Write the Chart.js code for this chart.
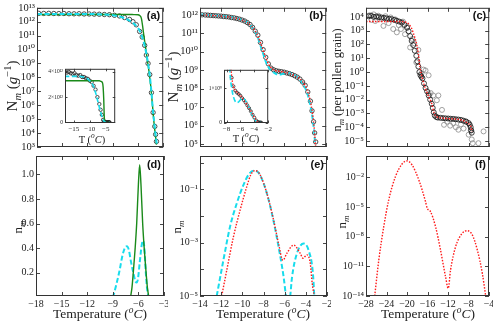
<!DOCTYPE html>
<html>
<head>
<meta charset="utf-8">
<script src="https://cdn.jsdelivr.net/npm/chart.js@4/dist/chart.umd.min.js"></script>
<style>
  body { margin: 0; width: 500px; height: 326px; position: relative; overflow: hidden; background: #fff;
         font-family: "Liberation Serif", "DejaVu Serif", serif; color: #222; }
  canvas { position: absolute; }
  .lbl { position: absolute; white-space: nowrap; transform: translate(-50%, -50%); line-height: 1; }
  .rot { transform: translate(-50%, -50%) rotate(-90deg); }
  sub, sup { font-size: 70%; line-height: 0; }
</style>
</head>
<body>
<script>
// ---- (a) N_m per gram, circles + two fits ----
const tempA = [-17.8, -17.2, -16.6, -16.0, -15.4, -14.8, -14.2, -13.6, -13.0, -12.4, -11.8, -11.2, -10.6, -10.0, -9.4, -8.8, -8.2, -7.6, -7.0, -6.6, -6.2, -5.8, -5.5, -5.2, -5.0, -4.8, -4.6, -4.4, -4.2, -4.0, -3.9, -3.8];
const nmA = [4.0e12, 3.95e12, 4.0e12, 3.9e12, 3.85e12, 3.9e12, 3.75e12, 3.7e12, 3.75e12, 3.6e12, 3.6e12, 3.5e12, 3.45e12, 3.3e12, 3.2e12, 2.9e12, 2.6e12, 2.0e12, 1.45e12, 1.0e12, 6.0e11, 2.0e11, 8.0e10, 2.0e10, 4.0e9, 1.0e9, 1.6e8, 8.0e6, 3.0e5, 3.0e4, 8.0e3, 2.5e3];
const tempAcyan = [-18, -14, -12, -11, -10, -9, -8.5, -8, -7.5, -7, -6.5, -6, -5.75, -5.5, -5.25, -5, -4.8, -4.6, -4.4, -4.2, -4.0, -3.85, -3.75];
const nmAcyan = [3.65e12, 3.65e12, 3.6e12, 3.5e12, 3.3e12, 2.95e12, 2.6e12, 2.2e12, 1.7e12, 1.2e12, 7.5e11, 3.5e11, 2.0e11, 8.0e10, 2.5e10, 5.0e9, 1.0e9, 1.5e8, 9.0e6, 3.0e5, 2.5e4, 4.0e3, 1.5e3];
const tempAgreen = [-18, -12, -8, -7, -6.5, -6.0, -5.8, -5.6, -5.45, -5.3, -5.1, -4.9, -4.7, -4.5, -4.3, -4.1, -3.9, -3.8];
const nmAgreen = [3.3e12, 3.3e12, 3.3e12, 3.3e12, 3.25e12, 3.15e12, 2.8e12, 1.8e12, 5.0e11, 1.0e11, 1.5e10, 2.0e9, 3.0e8, 3.0e7, 1.5e6, 6.0e4, 5.0e3, 1.5e3];

// ---- (b) N_m per gram ----
const tempB = [-13.8, -13.5, -13.25, -13.0, -12.75, -12.5, -12.25, -12.0, -11.75, -11.5, -11.25, -11.0, -10.75, -10.5, -10.25, -10.0, -9.75, -9.5, -9.25, -9.0, -8.75, -8.5, -8.25, -8.0, -7.75, -7.5, -7.25, -7.0, -6.75, -6.5, -6.25, -6.0, -5.75, -5.5, -5.25, -5.0, -4.75, -4.5, -4.25, -4.0, -3.75, -3.5, -3.35, -3.2, -3.1, -3.0];
const nmB = [1.0e12, 9.8e11, 9.6e11, 9.3e11, 9.1e11, 8.9e11, 8.7e11, 8.5e11, 8.1e11, 7.9e11, 7.6e11, 7.1e11, 6.8e11, 6.3e11, 5.8e11, 5.2e11, 4.6e11, 3.8e11, 3.0e11, 2.1e11, 1.3e11, 7.9e10, 3.2e10, 1.3e10, 5.0e9, 2.2e9, 1.3e9, 1.05e9, 9.3e8, 8.7e8, 8.3e8, 7.8e8, 7.1e8, 6.5e8, 5.8e8, 5.0e8, 4.2e8, 3.3e8, 2.3e8, 1.5e8, 6.6e7, 2.1e7, 6.3e6, 1.6e6, 4.0e5, 1.3e5];
const tempBred = [-14, -13, -12, -11, -10.5, -10, -9.5, -9, -8.75, -8.5, -8.25, -8, -7.75, -7.5, -7.25, -7, -6.5, -6, -5.5, -5, -4.5, -4.0, -3.75, -3.5, -3.3, -3.15, -3.05, -2.98];
const nmBred = [1.0e12, 9.4e11, 8.5e11, 7.2e11, 6.3e11, 5.2e11, 3.8e11, 2.1e11, 1.3e11, 7.0e10, 3.0e10, 1.2e10, 4.8e9, 2.2e9, 1.35e9, 1.05e9, 8.8e8, 7.9e8, 6.6e8, 5.0e8, 3.3e8, 1.5e8, 6.5e7, 2.0e7, 4.5e6, 8.0e5, 1.5e5, 5.0e4];
const tempBcyan = [-14, -13, -12, -11, -10.5, -10, -9.5, -9, -8.75, -8.5, -8.25, -8, -7.75, -7.5, -7.25, -7.0, -6.75, -6.5, -6.25, -6.0, -5.75, -5.5, -5.25, -5.0, -4.75, -4.5, -4.25, -4.0, -3.75, -3.5, -3.3, -3.15, -3.05];
const nmBcyan = [1.05e12, 9.6e11, 8.7e11, 7.3e11, 6.4e11, 5.3e11, 3.9e11, 2.0e11, 1.2e11, 6.0e10, 2.2e10, 8.0e9, 3.0e9, 1.5e9, 1.0e9, 7.5e8, 6.2e8, 5.8e8, 6.0e8, 6.6e8, 7.0e8, 6.9e8, 6.3e8, 5.4e8, 4.3e8, 3.1e8, 2.0e8, 1.1e8, 4.5e7, 1.2e7, 2.5e6, 5.0e5, 1.0e5];

// ---- (c) n_m per pollen grain ----
const tempC = [-27.5, -27, -26.5, -26, -25.5, -25, -24.5, -24, -23.5, -23, -22.5, -22, -21.5, -21, -20.5, -20, -19.7, -19.4, -19.1, -18.8, -18.5, -18.2, -18.0, -17.8, -17.6, -17.4, -17.2, -17.0, -16.7, -16.4, -16.1, -15.8, -15.5, -15.2, -15.0, -14.8, -14.6, -14.3, -14.0, -13.5, -13.0, -12.5, -12.0, -11.5, -11.0, -10.5, -10.0, -9.5, -9.0, -8.5, -8.0, -7.8, -7.6, -7.5, -7.4];
const nmC = [1.1e4, 1.2e4, 1.0e4, 1.05e4, 9.5e3, 9.0e3, 8.5e3, 7.8e3, 7.2e3, 6.8e3, 6.0e3, 5.2e3, 4.5e3, 3.8e3, 2.6e3, 1.6e3, 9.0e2, 4.0e2, 1.8e2, 9.0e1, 3.5e1, 1.5e1, 6.0, 2.5, 1.0, 0.6, 0.45, 0.35, 0.15, 0.07, 0.04, 0.02, 0.01, 5.0e-3, 2.5e-3, 1.2e-3, 7.0e-4, 5.5e-4, 5.0e-4, 4.8e-4, 4.6e-4, 4.4e-4, 4.3e-4, 4.1e-4, 4.0e-4, 3.8e-4, 3.6e-4, 3.4e-4, 3.0e-4, 2.6e-4, 2.0e-4, 1.5e-4, 1.0e-4, 6.0e-5, 4.0e-5];
const tempCgray = [-27.3, -26.9, -26.5, -26.2, -25.6, -25.0, -24.6, -24.2, -23.6, -23.2, -22.7, -22.3, -22.0, -21.6, -21.2, -20.8, -20.4, -20.0, -19.4, -19.0, -18.6, -18.2, -17.8, -17.2, -16.8, -16.4, -15.8, -15.8, -15.4, -14.9, -14.2, -13.9, -13.2, -12.8, -12.2, -11.6, -11.0, -10.5, -10.0, -9.5, -9.0, -8.5, -8.0, -7.6, -7.4, -7.2, -6.1, -5.1];
const nmCgray = [1.3e4, 6.0e3, 1.5e4, 5.0e3, 1.2e4, 7.0e3, 2.2e3, 1.1e4, 3.5e3, 9.0e3, 1.3e3, 6.5e3, 7.5e2, 2.5e3, 1.3e3, 4.5e3, 5.5e2, 2.0e3, 6.0e1, 2.5e2, 1.2e2, 5.0, 4.0e1, 0.8, 1.5, 1.3, 0.58, 2.8e-2, 3.0e-2, 2.0e-2, 9.0e-3, 2.0e-2, 1.8e-3, 1.5e-4, 2.5e-4, 1.3e-4, 2.0e-4, 1.0e-4, 6.6e-5, 1.6e-4, 8.0e-5, 2.4e-4, 2.9e-5, 6.0e-5, 1.3e-5, 7.0e-6, 7.0e-6, 5.0e-5];
const tempCred = [-28, -24, -22, -21, -20.5, -20, -19.6, -19.2, -18.8, -18.5, -18.1, -17.8, -17.5, -17.0, -16.5, -15.9, -15.2, -14.7, -14.2, -13.5, -12.6, -11, -10, -9, -8.7, -8.2, -7.7, -7.5, -7.4];
const nmCred = [4.6e3, 4.6e3, 4.6e3, 4.5e3, 4.3e3, 3.8e3, 2.8e3, 1.7e3, 7.0e2, 3.2e2, 9.0e1, 2.1e1, 2.3, 0.33, 0.074, 0.021, 5.2e-3, 1.0e-3, 5.8e-4, 4.8e-4, 4.4e-4, 4.0e-4, 3.7e-4, 3.0e-4, 2.5e-4, 2.0e-4, 1.4e-4, 9.0e-5, 4.8e-5];

// ---- (d) n_m, linear ----
const tempDgreen = [-6.9, -6.75, -6.6, -6.4, -6.2, -6.0, -5.85, -5.7, -5.5, -5.3, -5.1, -4.95, -4.8];
const nmDgreen = [0.01, 0.08, 0.2, 0.38, 0.6, 0.92, 1.08, 0.92, 0.6, 0.38, 0.2, 0.08, 0.01];
const tempDcyan = [-9.0, -8.9, -8.6, -8.2, -7.9, -7.6, -7.35, -7.1, -6.9, -6.6, -6.35, -6.2, -6.05, -5.85, -5.6, -5.45, -5.3, -5.15, -5.0, -4.85];
const nmDcyan = [0.0, 0.02, 0.1, 0.22, 0.33, 0.4, 0.415, 0.38, 0.3, 0.2, 0.13, 0.12, 0.15, 0.28, 0.43, 0.46, 0.4, 0.22, 0.08, 0.01];

// ---- (e) n_m, log ----
const tempEred = [-11.95, -11.47, -10.84, -10.21, -9.58, -9.2, -8.85, -8.6, -8.32, -7.68, -7.05, -6.58, -6.17, -5.79, -5.16, -4.53, -4.27, -3.89, -3.58, -3.4, -3.2];
const nmEred = [1e-5, 9.3e-5, 1.66e-3, 1.66e-2, 0.126, 0.35, 0.5, 0.48, 0.35, 0.071, 7.1e-3, 9.3e-4, 2.2e-4, 4.0e-4, 8.1e-4, 4.0e-4, 2.6e-4, 3.5e-4, 1.66e-4, 3e-5, 1e-5];
const tempEcyan = [-12.42, -11.79, -11.16, -10.53, -9.9, -9.4, -8.95, -8.6, -8.32, -7.68, -7.05, -6.58, -6.1, -5.85, -5.69, -5.5, -5.3, -4.84, -4.21, -3.74, -3.33, -3.2];
const nmEcyan = [1e-5, 2.2e-4, 4e-3, 2.95e-2, 0.145, 0.36, 0.5, 0.47, 0.34, 0.07, 6.5e-3, 7e-4, 5.2e-5, 8e-6, 3e-6, 8e-6, 5.2e-5, 4e-4, 9.3e-4, 5.2e-4, 7e-5, 1e-5];

// ---- (f) n_m, log ----
const tempFred = [-26.3, -25.5, -24.54, -23.57, -22.26, -20.96, -19.98, -19.0, -17.7, -16.39, -16.06, -15.41, -14.43, -13.46, -12.48, -11.96, -11.5, -10.52, -9.22, -8.24, -7.26, -6.28, -5.3, -4.65];
const nmFred = [1e-14, 4.4e-11, 1e-7, 5e-5, 1.15e-2, 0.22, 0.45, 0.17, 5.4e-3, 3.5e-5, 7.4e-6, 3.3e-6, 1e-7, 4.5e-10, 8.9e-13, 6e-14, 4.3e-12, 9.5e-10, 2.2e-8, 4e-8, 1.5e-8, 4.5e-10, 1.9e-12, 1e-14];

// ---- tick values and labels ----
const xTicksAD = [-18, -15, -12, -9, -6, -3];
const xLabelsAD = ['\u221218', '\u221215', '\u221212', '\u22129', '\u22126', '\u22123'];
const xTicksBE = [-14, -12, -10, -8, -6, -4, -2];
const xLabelsBE = ['\u221214', '\u221212', '\u221210', '\u22128', '\u22126', '\u22124', '\u22122'];
const xTicksCF = [-28, -24, -20, -16, -12, -8, -4];
const xLabelsCF = ['\u221228', '\u221224', '\u221220', '\u221216', '\u221212', '\u22128', '\u22124'];
const yTicksA = [1e3, 1e4, 1e5, 1e6, 1e7, 1e8, 1e9, 1e10, 1e11, 1e12, 1e13];
const yLabelsA = ['10³', '10⁴', '10⁵', '10⁶', '10⁷', '10⁸', '10⁹', '10¹⁰', '10¹¹', '10¹²', '10¹³'];
const yTicksB = [1e5, 1e6, 1e7, 1e8, 1e9, 1e10, 1e11, 1e12];
const yLabelsB = ['10⁵', '10⁶', '10⁷', '10⁸', '10⁹', '10¹⁰', '10¹¹', '10¹²'];
const yTicksC = [1e-5, 1e-4, 1e-3, 1e-2, 1e-1, 1, 10, 100, 1e3, 1e4];
const yLabelsC = ['10⁻⁵', '10⁻⁴', '10⁻³', '10⁻²', '10⁻¹', '10⁰', '10¹', '10²', '10³', '10⁴'];
const yTicksD = [0.2, 0.4, 0.6, 0.8, 1.0];
const yLabelsD = ['0.2', '0.4', '0.6', '0.8', '1.0'];
const yTicksE = [1e-5, 1e-4, 1e-3, 1e-2, 1e-1, 1];
const yLabelsE = ['10⁻⁵', '', '10⁻³', '', '10⁻¹', ''];
const yTicksF = [1e-14, 1e-11, 1e-8, 1e-5, 1e-2];
const yLabelsF = ['10⁻¹⁴', '10⁻¹¹', '10⁻⁸', '10⁻⁵', '10⁻²'];
const xTicksInA = [-15, -10, -5];
const xLabelsInA = ['\u221215', '\u221210', '\u22125'];
const yTicksInA = [0, 2e12, 4e12];
const yLabelsInA = ['0', '2×10¹²', '4×10¹²'];
const xTicksInB = [-8, -6, -4, -2];
const xLabelsInB = ['\u22128', '\u22126', '\u22124', '\u22122'];
const yTicksInB = [0, 1e9];
const yLabelsInB = ['0', '1×10⁹'];

Chart.defaults.font.family = '"Liberation Serif", "DejaVu Serif", serif';
Chart.defaults.color = '#222';

// frame, inward ticks and the (a)..(f) tag
const framePlugin = {
  id: 'frame',
  beforeDraw(chart, args, o) {
    if (!o.fill) return;
    const a = chart.chartArea, ctx = chart.ctx;
    ctx.save();
    ctx.fillStyle = '#fff';
    ctx.fillRect(a.left, a.top, a.width, a.height);
    ctx.restore();
  },
  afterDraw(chart, args, o) {
    const { ctx, chartArea: a, scales } = chart;
    const len = o.tick || 4;
    ctx.save();
    ctx.strokeStyle = '#333';
    ctx.lineWidth = 0.9;
    ctx.beginPath();
    scales.x.ticks.forEach(t => {
      const p = Math.round(scales.x.getPixelForValue(t.value)) + 0.5;
      ctx.moveTo(p, a.bottom); ctx.lineTo(p, a.bottom - len);
      ctx.moveTo(p, a.top); ctx.lineTo(p, a.top + len);
    });
    scales.y.ticks.forEach(t => {
      const p = Math.round(scales.y.getPixelForValue(t.value)) + 0.5;
      ctx.moveTo(a.left, p); ctx.lineTo(a.left + len, p);
      ctx.moveTo(a.right, p); ctx.lineTo(a.right - len, p);
    });
    ctx.stroke();
    ctx.lineWidth = 1;
    ctx.strokeRect(a.left + 0.5, a.top + 0.5, a.width - 1, a.height - 1);
    if (o.label) {
      ctx.fillStyle = '#111';
      ctx.font = 'bold 11px "Liberation Sans", Arial, sans-serif';
      ctx.textAlign = 'right';
      ctx.textBaseline = 'top';
      ctx.fillText(o.label, a.right - 3, a.top + 3);
    }
    ctx.restore();
  }
};
Chart.register(framePlugin);

const pts = (xs, ys) => xs.map((x, i) => ({ x: x, y: ys[i] }));
const circles = (xs, ys, color, r) => ({ data: pts(xs, ys), showLine: false,
  borderColor: color, backgroundColor: 'rgba(0,0,0,0)', pointRadius: r,
  pointBorderColor: color, pointBackgroundColor: 'rgba(0,0,0,0)', pointBorderWidth: 0.8 });
const cyanLine = (xs, ys, w) => ({ data: pts(xs, ys), borderColor: '#18dcec', backgroundColor: 'rgba(0,0,0,0)',
  borderWidth: w || 2, borderDash: [5, 2.5], pointRadius: 0, cubicInterpolationMode: 'monotone' });
const greenLine = (xs, ys) => ({ data: pts(xs, ys), borderColor: '#1a8a1a', backgroundColor: 'rgba(0,0,0,0)',
  borderWidth: 1.4, pointRadius: 0, cubicInterpolationMode: 'monotone' });
const redLine = (xs, ys, w) => ({ data: pts(xs, ys), borderColor: '#ff1a1a', backgroundColor: 'rgba(0,0,0,0)',
  borderWidth: w || 1.4, borderDash: [1.5, 1.5], pointRadius: 0, cubicInterpolationMode: 'monotone' });

function axis(type, min, max, ticks, labels, show, size) {
  return {
    type: type, min: min, max: max,
    grid: { display: false, drawTicks: false, tickLength: 0 }, border: { display: false },
    afterBuildTicks: s => { s.ticks = ticks.map(v => ({ value: v })); },
    ticks: { display: show, autoSkip: false, maxRotation: 0, minRotation: 0, padding: 2,
             font: { size: size }, color: '#222', callback: (v, i) => labels[i] }
  };
}

function panel(f, pad, xs, ys, datasets, frameOpts) {
  const c = document.createElement('canvas');
  c.width = f.r - f.l + pad.l + pad.r;
  c.height = f.b - f.t + pad.t + pad.b;
  c.style.left = (f.l - pad.l) + 'px';
  c.style.top = (f.t - pad.t) + 'px';
  document.body.appendChild(c);
  xs.afterFit = s => { s.height = pad.b; s.paddingLeft = 0; s.paddingRight = 0; };
  ys.afterFit = s => { s.width = pad.l; s.paddingTop = 0; s.paddingBottom = 0; };
  return new Chart(c, {
    type: 'line',
    data: { datasets: datasets },
    options: {
      responsive: false, animation: false, devicePixelRatio: 1,
      layout: { padding: { left: 0, top: pad.t, right: pad.r, bottom: 0 } },
      scales: { x: xs, y: ys },
      plugins: { legend: { display: false }, tooltip: { enabled: false }, colors: { enabled: false }, frame: frameOpts }
    }
  });
}

const padMain = { l: 36, t: 4, r: 4, b: 16 };
const padIn = { l: 26, t: 3, r: 3, b: 10 };

// top row
panel({ l: 37, t: 7, r: 164, b: 147 }, padMain,
  axis('linear', -18, -3, xTicksAD, xLabelsAD, false, 10),
  axis('logarithmic', 1e3, 1e13, yTicksA, yLabelsA, true, 10.5),
  [cyanLine(tempAcyan, nmAcyan), greenLine(tempAgreen, nmAgreen), circles(tempA, nmA, '#222', 2.2)],
  { label: '(a)' });
panel({ l: 200, t: 7, r: 327, b: 147 }, padMain,
  axis('linear', -14, -2, xTicksBE, xLabelsBE, false, 10),
  axis('logarithmic', 6.9e4, 2.4e12, yTicksB, yLabelsB, true, 10.5),
  [redLine(tempBred, nmBred), cyanLine(tempBcyan, nmBcyan), circles(tempB, nmB, '#222', 2.2)],
  { label: '(b)' });
panel({ l: 366, t: 7, r: 490, b: 147 }, padMain,
  axis('linear', -28, -4, xTicksCF, xLabelsCF, false, 10),
  axis('logarithmic', 3.7e-6, 4.5e4, yTicksC, yLabelsC, true, 10.5),
  [redLine(tempCred, nmCred), circles(tempC, nmC, '#111', 2.5), circles(tempCgray, nmCgray, '#8a8a8a', 2.5)],
  { label: '(c)' });

// bottom row
panel({ l: 36, t: 156, r: 164, b: 296 }, padMain,
  axis('linear', -18, -3, xTicksAD, xLabelsAD, true, 10),
  axis('linear', 0.01, 1.15, yTicksD, yLabelsD, true, 10),
  [greenLine(tempDgreen, nmDgreen), cyanLine(tempDcyan, nmDcyan)],
  { label: '(d)' });
panel({ l: 200, t: 156, r: 327, b: 296 }, padMain,
  axis('linear', -14, -2, xTicksBE, xLabelsBE, true, 10),
  axis('logarithmic', 1e-5, 1.78, yTicksE, yLabelsE, true, 10),
  [redLine(tempEred, nmEred), cyanLine(tempEcyan, nmEcyan)],
  { label: '(e)' });
panel({ l: 366, t: 156, r: 489, b: 296 }, padMain,
  axis('linear', -28, -4, xTicksCF, xLabelsCF, true, 10),
  axis('logarithmic', 1e-14, 1.4, yTicksF, yLabelsF, true, 10),
  [redLine(tempFred, nmFred)],
  { label: '(f)' });

// insets (linear y)
panel({ l: 65, t: 67, r: 117, b: 123 }, padIn,
  axis('linear', -17.8, -2, xTicksInA, xLabelsInA, true, 7),
  axis('linear', -0.05e12, 4.25e12, yTicksInA, yLabelsInA, true, 5.5),
  [cyanLine(tempAcyan, nmAcyan, 1.6), greenLine(tempAgreen, nmAgreen), circles(tempA, nmA, '#222', 1.7)],
  { fill: true, tick: 2.5 });
panel({ l: 224, t: 68, r: 270, b: 123 }, padIn,
  axis('linear', -8.36, -2, xTicksInB, xLabelsInB, true, 7),
  axis('linear', -0.01e9, 1.53e9, yTicksInB, yLabelsInB, true, 5.5),
  [redLine(tempBred, nmBred, 1.2), cyanLine(tempBcyan, nmBcyan, 1.6), circles(tempB, nmB, '#222', 1.5)],
  { fill: true, tick: 2.5 });
</script>

<div class="lbl rot" style="left:12px;top:86px;font-size:15px">N<sub><i>m</i></sub> (<i>g</i><sup>−1</sup>)</div>
<div class="lbl rot" style="left:173px;top:77px;font-size:15px">N<sub><i>m</i></sub> (<i>g</i><sup>−1</sup>)</div>
<div class="lbl rot" style="left:337px;top:80px;font-size:12.5px">n<sub><i>m</i></sub> (per pollen grain)</div>
<div class="lbl rot" style="left:17px;top:227px;font-size:13px">n<sub><i>m</i></sub></div>
<div class="lbl rot" style="left:176px;top:227px;font-size:13px">n<sub><i>m</i></sub></div>
<div class="lbl rot" style="left:341px;top:222px;font-size:13px">n<sub><i>m</i></sub></div>
<div class="lbl" style="left:100px;top:314px;font-size:13.5px">Temperature (<sup><i>o</i></sup><i>C</i>)</div>
<div class="lbl" style="left:263px;top:314px;font-size:13.5px">Temperature (<sup><i>o</i></sup><i>C</i>)</div>
<div class="lbl" style="left:428px;top:314px;font-size:13.5px">Temperature (<sup><i>o</i></sup><i>C</i>)</div>
<div class="lbl" style="left:92px;top:140px;font-size:10.5px">T (<sup><i>o</i></sup><i>C</i>)</div>
<div class="lbl" style="left:246px;top:139px;font-size:10.5px">T (<sup><i>o</i></sup><i>C</i>)</div>
</body>
</html>
